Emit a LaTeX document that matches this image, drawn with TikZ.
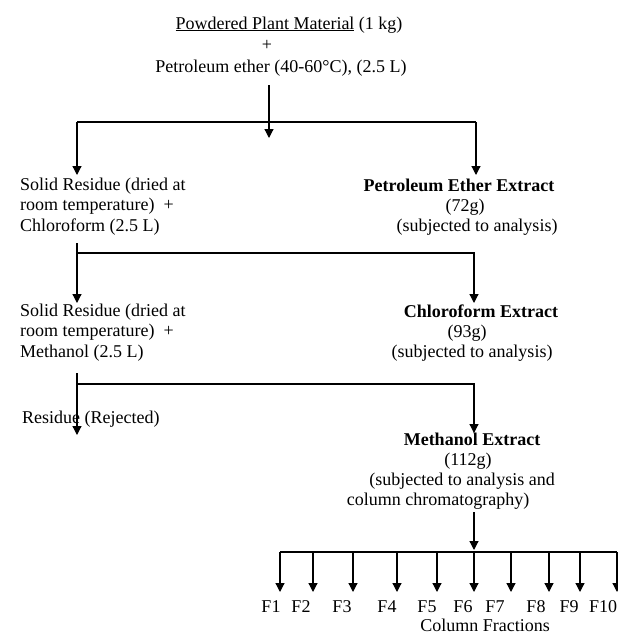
\documentclass[tikz,border=0pt]{standalone}
\usepackage{fontspec}
\setmainfont{Liberation Serif}
\usetikzlibrary{arrows.meta}
\begin{document}
\begin{tikzpicture}[x=1pt,y=-1pt,
  txt/.style={inner sep=0pt, font=\fontsize{18}{20.5}\selectfont, anchor=base},
  btxt/.style={txt, font=\fontsize{18}{20.5}\selectfont\bfseries},
  ltxt/.style={txt, anchor=base west, align=left},
  line/.style={line width=1.2pt},
  arr/.style={line width=1.2pt, -{Triangle[length=9pt,width=9pt]}}]
\useasboundingbox (0,0) rectangle (618,635);
% texts
\node[txt] (top1) at (289,29) {\underline{Powdered Plant Material} (1 kg)};
\node[txt] (plus) at (267,50) {+};
\node[txt] (top2) at (281,72) {Petroleum ether (40-60°C), (2.5 L)};
% multi-line nodes: base anchor is the last line's baseline
\node[ltxt] (sr1) at (20,231) {Solid Residue (dried at\\room temperature)~~+\\Chloroform (2.5 L)};
\node[btxt] (pee) at (459,191) {Petroleum Ether Extract};
\node[txt] (pee2) at (465,211) {(72g)};
\node[txt] (pee3) at (477,231) {(subjected to analysis)};
\node[ltxt] (sr2) at (20,357) {Solid Residue (dried at\\room temperature)~~+\\Methanol (2.5 L)};
\node[btxt] (ce) at (481,317) {Chloroform Extract};
\node[txt] (ce2) at (467,337) {(93g)};
\node[txt] (ce3) at (472,357) {(subjected to analysis)};
\node[txt, anchor=base west] (rej) at (22,423) {Residue (Rejected)};
\node[btxt] (me) at (472,445) {Methanol Extract};
\node[txt] (me2) at (468,465) {(112g)};
\node[txt] (me3) at (462,485) {(subjected to analysis and};
\node[txt] (me4) at (438,505) {column chromatography)};
\foreach \x [count=\i] in {271,301,342,387,427,463,495,536,569,603}
  \node[txt] (f\i) at (\x,612) {F\i};
\node[txt] (cf) at (485,631) {Column Fractions};
% junctions
\coordinate (a0) at (269,85);
\coordinate (a1) at (269,138);
\coordinate (h1L) at (77,122);
\coordinate (h1R) at (476,122);
\coordinate (h1Lt) at (77,175);
\coordinate (h1Rt) at (476,175);
\coordinate (v2) at (77,243);
\coordinate (h2L) at (77,253);
\coordinate (h2R) at (474,253);
\coordinate (v2t) at (77,303);
\coordinate (h2Rt) at (474,303);
\coordinate (v3) at (77,373);
\coordinate (h3L) at (77,384);
\coordinate (h3R) at (474,384);
\coordinate (v3t) at (77,435);
\coordinate (h3Rt) at (474,433);
\coordinate (m0) at (474,512);
\coordinate (m1) at (474,550);
% connectors
\draw[arr] (a0) -- (a1);
\draw[line] (h1L) -- (h1R);
\draw[arr] (h1L) -- (h1Lt);
\draw[arr] (h1R) -- (h1Rt);
\draw[arr] (v2) -- (v2t);
\draw[arr] (h2L) -- (h2R) -- (h2Rt);
\draw[arr] (v3) -- (v3t);
\draw[arr] (h3L) -- (h3R) -- (h3Rt);
\draw[arr] (m0) -- (m1);
\foreach \x [count=\i] in {280,313,353,397,437,474,511,549,580,617} {
  \coordinate (b\i) at (\x,552);
  \coordinate (t\i) at (\x,592);
  \draw[arr] (b\i) -- (t\i);
}
\draw[line] (b1) -- (b10);
\end{tikzpicture}
\end{document}
